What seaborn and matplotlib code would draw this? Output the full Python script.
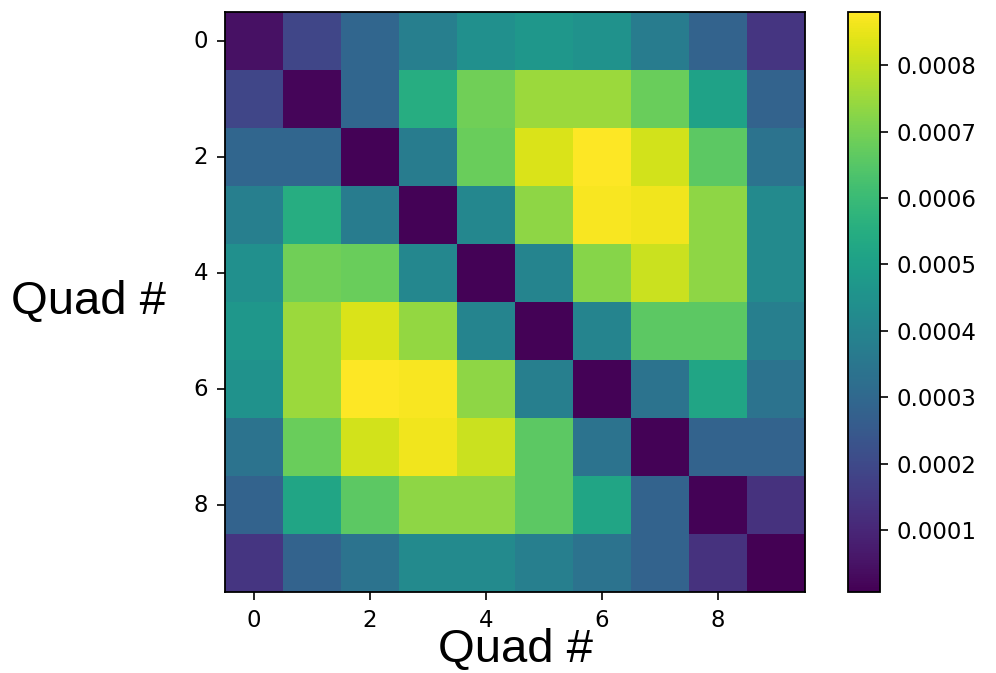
import numpy as np
import pandas as pd
import matplotlib
matplotlib.use("Agg")
import matplotlib.pyplot as plt
import seaborn as sns

# ── Data ──────────────────────────────────────────────────────────────────────
quads = list(range(10))
tick_labels = ["0", "2", "4", "6", "8"]
cbar_ticks = [0.0001, 0.0002, 0.0003, 0.0004, 0.0005, 0.0006, 0.0007, 0.0008]

row0 = [0.000045, 0.00019, 0.00029, 0.00038, 0.00044, 0.00047, 0.00045, 0.00037, 0.00028, 0.00014]
row1 = [0.00019, 0.00002, 0.00029, 0.00055, 0.00069, 0.00075, 0.00075, 0.00068, 0.00051, 0.00028]
row2 = [0.00029, 0.00029, 0.00001, 0.00037, 0.00068, 0.00083, 0.00088, 0.00082, 0.00066, 0.00034]
row3 = [0.00038, 0.00055, 0.00037, 0.00001, 0.00041, 0.00073, 0.00087, 0.00086, 0.00073, 0.00042]
row4 = [0.00044, 0.00069, 0.00068, 0.00041, 0.00001, 0.00040, 0.00072, 0.00081, 0.00073, 0.00042]
row5 = [0.00047, 0.00075, 0.00083, 0.00074, 0.00040, 0.00001, 0.00040, 0.00066, 0.00066, 0.00038]
row6 = [0.00045, 0.00075, 0.00088, 0.00087, 0.00073, 0.00038, 0.00001, 0.00034, 0.00052, 0.00034]
row7 = [0.00034, 0.00068, 0.00082, 0.00086, 0.00081, 0.00066, 0.00034, 0.00001, 0.00028, 0.00028]
row8 = [0.00028, 0.00052, 0.00066, 0.00073, 0.00073, 0.00066, 0.00052, 0.00028, 0.00001, 0.00013]
row9 = [0.00014, 0.00028, 0.00034, 0.00042, 0.00042, 0.00038, 0.00034, 0.00028, 0.00013, 0.0000065]

VMIN, VMAX = 0.0000065, 0.00088


def main():
    mat = pd.DataFrame([row0, row1, row2, row3, row4, row5, row6, row7, row8, row9],
                       index=quads, columns=quads)

    fig = plt.figure(figsize=(9.96, 6.73), dpi=100)
    ax = fig.add_axes([225 / 996, 81 / 673, 580 / 996, 580 / 673])
    cax = fig.add_axes([848 / 996, 81 / 673, 32 / 996, 580 / 673])

    sns.heatmap(mat, cmap="viridis", vmin=VMIN, vmax=VMAX, ax=ax, cbar_ax=cax,
                cbar_kws={"ticks": cbar_ticks, "format": "%.4f"})

    # imshow-like look: frame, ticks on every other cell centre
    for sp in ax.spines.values():
        sp.set_visible(True)
        sp.set_linewidth(1.3)
        sp.set_color("black")
    pos = np.arange(0, 10, 2) + 0.5
    ax.set_xticks(pos)
    ax.set_xticklabels(tick_labels, rotation=0, fontsize=16.5)
    ax.set_yticks(pos)
    ax.set_yticklabels(tick_labels, rotation=0, fontsize=16.5)
    ax.tick_params(length=6, width=1.2, pad=6)

    ax.set_xlabel("Quad #", fontsize=34, family="Liberation Sans", labelpad=-3)
    ax.set_ylabel("Quad #", fontsize=34, family="Liberation Sans", rotation=0,
                  ha="right", va="center", labelpad=20)

    cbar = ax.collections[0].colorbar
    cbar.ax.tick_params(labelsize=16.5, length=6, width=1.2, pad=6)
    cbar.outline.set_visible(True)
    cbar.outline.set_linewidth(1.3)
    cbar.outline.set_edgecolor("black")

    fig.savefig("out.png", dpi=100)
    plt.close(fig)


if __name__ == "__main__":
    main()
